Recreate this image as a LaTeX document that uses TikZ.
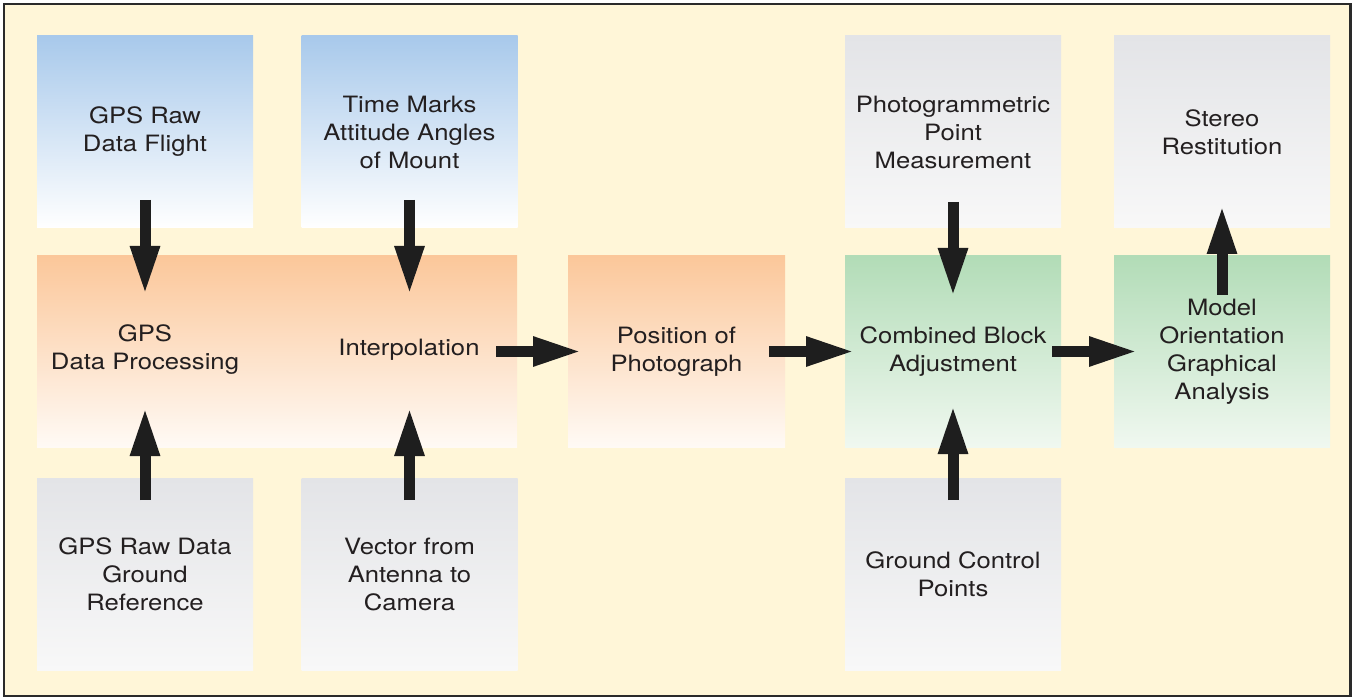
\documentclass[tikz,border=0pt]{standalone}
\usepackage{fontspec}
\setmainfont[FakeStretch=1.14]{TeX Gyre Heros}
\usetikzlibrary{arrows.meta,calc}
\definecolor{cream}{HTML}{FFF6D8}
\definecolor{frame}{HTML}{2A2A2A}
\definecolor{txt}{HTML}{231F20}
\definecolor{arr}{HTML}{1E1E1E}
\definecolor{blueT}{HTML}{A8C9EB}
\definecolor{blueB}{HTML}{FFFFFF}
\definecolor{orangeT}{HTML}{FBC79A}
\definecolor{orangeB}{HTML}{FFFAF5}
\definecolor{greenT}{HTML}{B2DCB7}
\definecolor{greenB}{HTML}{F0F8F0}
\definecolor{grayT}{HTML}{E3E4E7}
\definecolor{grayB}{HTML}{F8F8F8}
\tikzset{
  box/.style={minimum width=216pt, minimum height=192pt, inner sep=0pt, outer sep=0pt,
    align=center, text=txt, font=\fontsize{22.5}{28}\selectfont},
  bluebox/.style={box, top color=blueT, bottom color=blueB},
  orangebox/.style={box, top color=orangeT, bottom color=orangeB},
  greenbox/.style={box, top color=greenT, bottom color=greenB},
  graybox/.style={box, top color=grayT, bottom color=grayB},
  label/.style={align=center, text=txt, inner sep=0pt, font=\fontsize{22.5}{28}\selectfont},
  bigarrow/.style={draw=arr, line width=11pt,
    -{Triangle[length=49pt,width=27pt,fill=arr]}},
}
\begin{document}
\begin{tikzpicture}[x=1pt,y=-1pt]
\useasboundingbox (0,0) rectangle (1354,700);
\fill[white] (0,0) rectangle (1354,700);
\draw[frame, fill=cream, line width=2.5pt] (4,4) rectangle (1350.5,696);

% top row
\node[bluebox] (flight) at (145,132) {GPS Raw\\Data Flight};
\node[bluebox] (tm) at (409.5,132) {Time Marks\\Attitude Angles\\of Mount};
\node[graybox] (photo) at (953,132) {Photogrammetric\\Point\\Measurement};
\node[graybox] (stereo) at (1222,132) {Stereo\\Restitution};

% middle row
\node[orangebox, minimum width=480pt, minimum height=191pt] (proc) at (277,351.5) {};
\node[label] (procA) at (145,350) {GPS\\Data Processing};
\node[label] (interp) at (409,350) {Interpolation};
\node[orangebox, minimum height=191pt, minimum width=217pt] (pos) at (676.5,351.5) {Position of\\Photograph};
\node[greenbox, minimum height=191pt] (comb) at (953,351.5) {Combined Block\\Adjustment};
\node[greenbox, minimum height=191pt] (model) at (1222,351.5) {Model\\Orientation\\Graphical\\Analysis};

% bottom row
\node[graybox] (gref) at (145,574) {GPS Raw Data\\Ground\\Reference};
\node[graybox] (vec) at (409.5,574) {Vector from\\Antenna to\\Camera};
\node[graybox] (gcp) at (953,574) {Ground Control\\Points};

% arrows
\draw[bigarrow] ([yshift=28pt]flight.south) -- ([yshift=-39pt]flight.south |- proc.north);
\draw[bigarrow] ([yshift=28pt]tm.south) -- ([yshift=-39pt]tm.south |- proc.north);
\draw[bigarrow] ([yshift=-22pt]gref.north) -- ([yshift=40pt]gref.north |- proc.south);
\draw[bigarrow] ([yshift=-22pt]vec.north) -- ([yshift=40pt]vec.north |- proc.south);
\draw[bigarrow] ([xshift=-21pt]proc.east) -- ([xshift=14pt]pos.west);
\draw[bigarrow] ([xshift=-16pt]pos.east) -- ([xshift=10pt]comb.west);
\draw[bigarrow] ([xshift=-9pt]comb.east) -- ([xshift=24pt]model.west);
\draw[bigarrow] ([yshift=26pt]photo.south) -- ([yshift=-41pt]comb.north);
\draw[bigarrow] ([yshift=-22pt]gcp.north) -- ([yshift=42pt]comb.south);
\draw[bigarrow] ([yshift=-39pt]model.north) -- ([yshift=23pt]stereo.south);
\end{tikzpicture}
\end{document}
